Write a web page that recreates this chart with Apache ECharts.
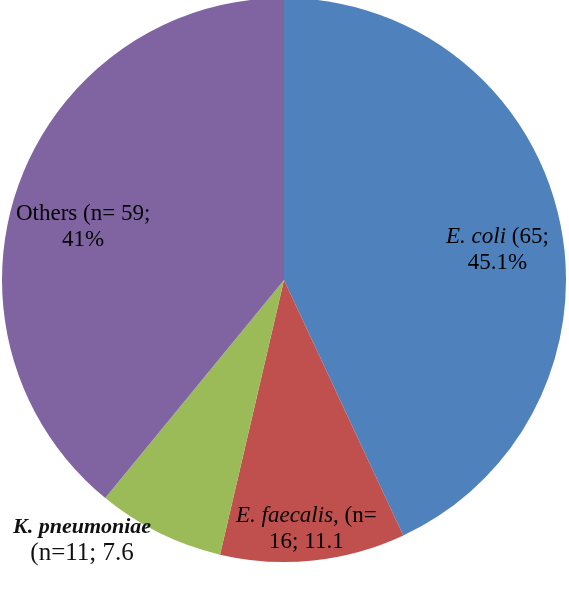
<!DOCTYPE html>
<html>
<head>
<meta charset="utf-8">
<script src="https://cdn.jsdelivr.net/npm/echarts@6/dist/echarts.min.js"></script>
<style>
  html, body { margin: 0; padding: 0; background: #fff; }
  #main { width: 569px; height: 591px; }
</style>
</head>
<body>
<div id="main"></div>
<script>
// organism names and counts (pie drawn by counts)
var names = ['E. coli', 'E. faecalis', 'K. pneumoniae', 'Others'];
var counts = [65, 16, 11, 59];
var pctText = ['45.1%', '11.1', '7.6', '41%'];
var colors = ['#4F81BD', '#C0504D', '#9BBB59', '#8064A2'];

var chart = echarts.init(document.getElementById('main'));

var pieData = names.map(function (n, i) {
  return { name: n, value: counts[i], itemStyle: { color: colors[i] } };
});

var baseFont = 'Liberation Serif';
var rich = {
  i: { fontStyle: 'italic', fontSize: 23, fontFamily: baseFont, fill: '#000', lineHeight: 26, align: 'center' },
  bi: { fontStyle: 'italic', fontWeight: 'bold', fontSize: 22, fontFamily: baseFont, fill: '#111', lineHeight: 26, align: 'center' },
  n: { fontSize: 23, fontFamily: baseFont, fill: '#000', lineHeight: 26, align: 'center' },
  c: { fontSize: 25, fontFamily: baseFont, fill: '#111', lineHeight: 26, align: 'center' }
};

function lbl(x, y, text) {
  return {
    type: 'text', left: x, top: y,
    style: { text: text, rich: rich, align: 'center', fontSize: 23, fontFamily: baseFont, fill: '#000', lineHeight: 26 },
    z: 100
  };
}

var option = {
  animation: false,
  series: [{
    type: 'pie',
    center: [284, 280],
    radius: [0, 282],
    startAngle: 90,
    clockwise: true,
    label: { show: false },
    labelLine: { show: false },
    itemStyle: { borderWidth: 0 },
    data: pieData
  }],
  graphic: [
    lbl(446, 224, '{i|' + names[0] + '}{n| (' + counts[0] + ';}\n{n|' + pctText[0] + '}'),
    lbl(236, 503, '{i|' + names[1] + '}{n|, (n=}\n{n|' + counts[1] + '; ' + pctText[1] + '}'),
    lbl(13, 514, '{bi|' + names[2] + '}\n{c|(n=' + counts[2] + '; ' + pctText[2] + '}'),
    lbl(16, 201, '{n|' + names[3] + ' (n= ' + counts[3] + ';}\n{n|' + pctText[3] + '}')
  ]
};
chart.setOption(option);
</script>
</body>
</html>
